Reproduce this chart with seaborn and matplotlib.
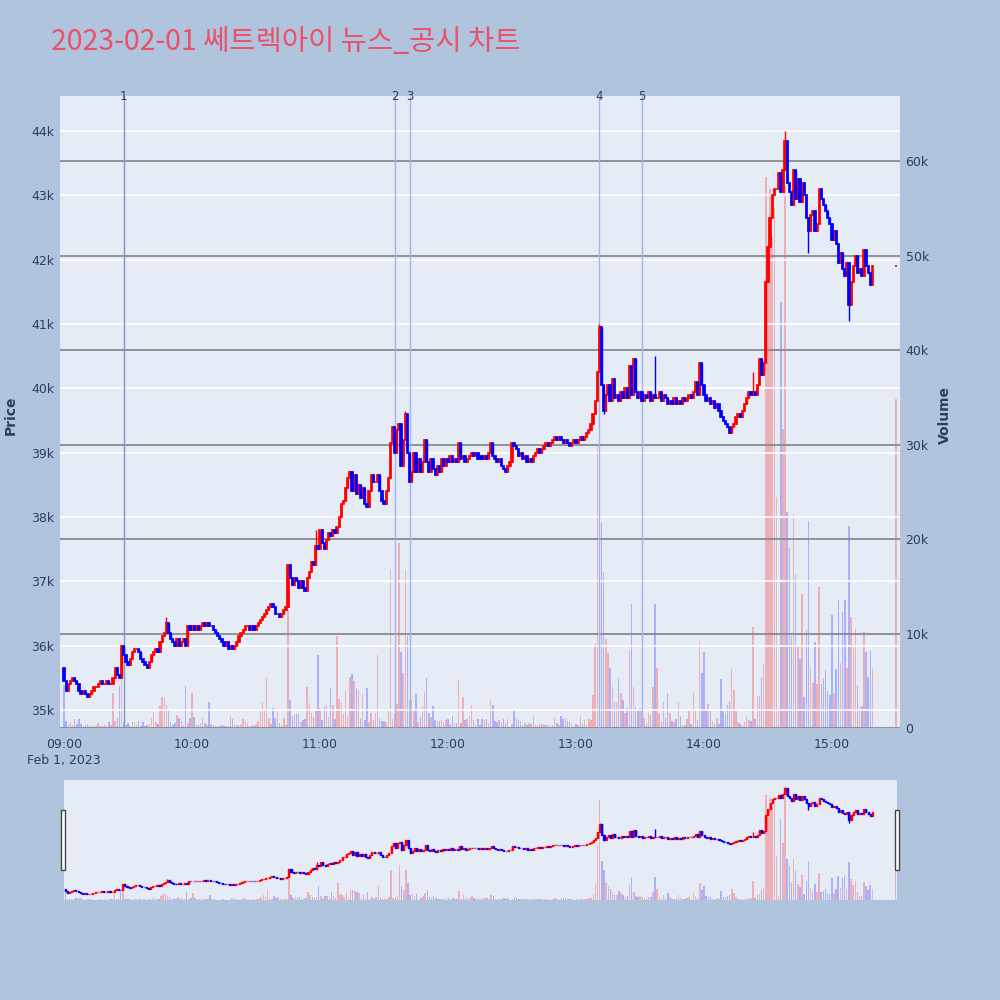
import matplotlib
matplotlib.use("Agg")
import numpy as np
import pandas as pd
import matplotlib.pyplot as plt
import matplotlib.transforms as mtransforms
from matplotlib.patches import Rectangle
import seaborn as sns

# ---- data (1-minute candles, 09:00 = minute 0) ----
title = "2023-02-01 쎄트렉아이 뉴스_공시 차트"
first_open = 35650
closes = [
    35450, 35300, 35400, 35450, 35500, 35450, 35400, 35300, 35250, 35300,
    35250, 35200, 35250, 35300, 35350, 35350, 35400, 35450, 35400, 35400,
    35450, 35400, 35400, 35500, 35650, 35550, 35500, 36000, 35850, 35750,
    35700, 35800, 35900, 35950, 35950, 35900, 35800, 35750, 35700, 35650,
    35750, 35850, 35900, 35950, 35900, 36050, 36150, 36200, 36350, 36200,
    36100, 36050, 36000, 36100, 36000, 36050, 36100, 36000, 36300, 36250,
    36300, 36250, 36300, 36250, 36300, 36350, 36300, 36350, 36300, 36300,
    36250, 36200, 36150, 36100, 36050, 36000, 36050, 35950, 36000, 35950,
    36000, 36050, 36150, 36200, 36250, 36300, 36300, 36250, 36300, 36250,
    36300, 36350, 36400, 36450, 36500, 36550, 36600, 36650, 36600, 36500,
    36500, 36450, 36500, 36550, 36600, 37250, 37050, 36950, 37050, 37000,
    36900, 37000, 36900, 36850, 37050, 37150, 37300, 37250, 37550, 37500,
    37800, 37600, 37500, 37650, 37750, 37700, 37800, 37750, 37850, 38000,
    38200, 38250, 38450, 38600, 38700, 38400, 38650, 38350, 38500, 38300,
    38450, 38200, 38150, 38400, 38650, 38550, 38550, 38650, 38400, 38250,
    38200, 38400, 38600, 39150, 39400, 39000, 39350, 39450, 38800, 39200,
    39600, 39000, 38550, 38700, 39000, 38700, 38900, 38700, 38850, 39200,
    38850, 38700, 38900, 38750, 38650, 38800, 38700, 38900, 38800, 38900,
    38850, 38950, 38850, 38900, 38850, 39150, 38900, 38950, 38850, 38900,
    38950, 39000, 38950, 39000, 38900, 38950, 38900, 38950, 38900, 39000,
    39150, 38950, 38900, 38850, 38900, 38800, 38750, 38700, 38800, 38850,
    39150, 39100, 39050, 38950, 39000, 38900, 38950, 38850, 38900, 38850,
    38950, 39000, 39050, 39000, 39050, 39100, 39150, 39100, 39150, 39200,
    39250, 39200, 39250, 39200, 39150, 39200, 39150, 39100, 39150, 39200,
    39150, 39200, 39250, 39200, 39250, 39300, 39350, 39450, 39600, 39800,
    40250, 40950, 40050, 39650, 39900, 40050, 39800, 40150, 39850, 39900,
    39800, 39950, 39850, 40000, 39850, 40350, 39900, 40450, 39950, 39850,
    39950, 39800, 39900, 39850, 39950, 39800, 39900, 39850, 39850, 39950,
    39800, 39900, 39850, 39750, 39800, 39750, 39850, 39750, 39800, 39750,
    39850, 39800, 39850, 39900, 39850, 39950, 40100, 39900, 40400, 40050,
    39900, 39800, 39850, 39750, 39800, 39700, 39750, 39650, 39550, 39500,
    39450, 39400, 39300, 39400, 39450, 39550, 39600, 39550, 39650, 39750,
    39850, 39950, 39900, 39950, 39900, 40050, 40450, 40200, 40400, 41650,
    42200, 42650, 43000, 43100, 43100, 43350, 43050, 43400, 43850, 43200,
    43050, 42850, 43400, 42950, 43250, 42900, 43200, 43000, 42650, 42450,
    42700, 42750, 42450, 42550, 43100, 42950, 42850, 42750, 42650, 42550,
    42300, 42450, 42250, 41950, 42100, 41850, 41750, 41950, 41300, 41650,
    41900, 42050, 41800, 41850, 41750, 42150, 41900, 41800, 41600, 41900,
]
auction_minute = 390   # 15:30 closing auction
auction_price = 41900

# volume, thousands of shares
volumes = [
    4.5, 0.7, 0.4, 0.6, 0.3, 1.0, 0.4, 0.9, 0.4, 0.2,
    0.3, 0.4, 0.3, 0.2, 0.1, 0.2, 0.5, 0.3, 0.2, 0.4,
    0.2, 0.6, 0.3, 3.7, 0.7, 1.1, 4.4, 9.0, 0.6, 0.3,
    0.5, 0.2, 0.6, 0.6, 0.3, 0.7, 0.2, 0.6, 0.2, 0.3,
    0.4, 1.1, 1.7, 0.6, 0.4, 2.3, 3.3, 3.2, 2.4, 1.9,
    0.6, 0.3, 0.5, 1.4, 1.1, 0.7, 0.3, 4.4, 0.5, 1.1,
    3.7, 1.2, 0.3, 0.3, 0.5, 1.1, 0.5, 0.3, 2.7, 0.4,
    0.3, 0.2, 0.2, 0.2, 0.3, 0.2, 0.2, 0.2, 1.3, 0.9,
    0.4, 0.3, 0.2, 0.3, 1.0, 0.7, 0.5, 0.2, 0.3, 0.2,
    0.4, 0.7, 1.9, 2.8, 1.9, 5.3, 1.1, 0.4, 2.1, 1.1,
    1.9, 0.5, 0.3, 1.1, 0.3, 12.5, 3.0, 1.3, 1.5, 1.5,
    1.5, 0.6, 0.8, 0.9, 4.3, 2.6, 1.6, 1.2, 1.9, 7.7,
    2.1, 0.8, 2.3, 2.4, 1.2, 4.2, 2.4, 1.0, 9.7, 3.1,
    2.7, 1.5, 3.9, 1.3, 5.4, 5.7, 5.0, 4.2, 4.0, 1.0,
    3.6, 0.8, 4.2, 0.6, 1.6, 0.8, 1.6, 7.7, 1.0, 0.7,
    0.7, 0.6, 1.9, 16.8, 1.0, 1.5, 2.5, 19.6, 8.0, 5.8,
    16.7, 9.7, 3.0, 3.1, 2.0, 3.6, 0.6, 1.2, 2.3, 3.8,
    5.3, 1.6, 1.2, 2.3, 0.85, 0.7, 0.7, 0.8, 0.5, 0.85,
    1.0, 0.4, 1.3, 0.5, 0.5, 5.1, 0.5, 3.3, 0.85, 1.0,
    1.3, 2.4, 0.85, 0.3, 1.0, 0.3, 0.9, 0.85, 0.9, 0.5,
    3.0, 2.4, 0.7, 0.6, 0.85, 0.5, 1.0, 0.5, 0.9, 0.15,
    0.4, 1.9, 0.9, 0.8, 0.7, 0.3, 0.5, 0.3, 0.5, 0.4,
    1.3, 0.3, 0.3, 0.4, 0.4, 0.3, 0.3, 0.3, 0.15, 0.3,
    1.1, 0.5, 0.3, 1.3, 1.0, 1.1, 0.7, 0.6, 0.4, 0.15,
    0.4, 0.3, 1.3, 0.4, 0.8, 0.3, 1.0, 0.85, 3.5, 8.9,
    30.0, 55.6, 21.7, 16.5, 9.4, 7.9, 6.4, 4.3, 2.8, 2.8,
    5.2, 3.7, 3.0, 1.6, 2.1, 8.3, 13.1, 4.3, 2.2, 1.9,
    2.1, 1.8, 1.1, 0.4, 1.55, 1.4, 4.3, 13.1, 6.4, 1.6,
    0.6, 2.8, 1.1, 3.7, 1.6, 0.7, 0.6, 1.0, 2.8, 1.3,
    0.3, 0.3, 1.0, 1.8, 0.4, 3.7, 2.0, 0.85, 9.2, 5.8,
    8.0, 2.0, 2.5, 1.8, 0.7, 0.4, 1.1, 0.4, 5.2, 1.8,
    1.6, 2.4, 2.9, 6.2, 4.0, 1.8, 0.6, 0.4, 0.3, 0.6,
    1.2, 0.85, 0.7, 10.7, 1.0, 3.4, 3.4, 5.4, 6.8, 58.3,
    51.0, 57.1, 52.0, 55.0, 24.5, 2.0, 45.1, 31.7, 57.4, 22.9,
    19.1, 9.7, 22.6, 16.2, 8.7, 7.3, 14.2, 3.3, 10.4, 21.9,
    6.5, 4.8, 9.1, 4.7, 14.9, 4.7, 5.2, 6.1, 3.9, 3.5,
    12.0, 3.7, 6.2, 13.6, 6.9, 12.3, 13.5, 6.3, 21.4, 11.7,
    8.4, 10.5, 4.6, 2.2, 2.3, 10.2, 8.0, 5.4, 8.1, 6.4,
]
auction_volume = 34.8

# long wicks
wick_hi = {48: 36450, 118: 37800, 160: 39650, 251: 41000, 277: 40500, 323: 40250, 338: 44000}
wick_lo = {253: 39600, 349: 42100, 368: 41050}

# news / disclosure markers (minute from 09:00)
news_minutes = [28, 155, 162, 251, 271]
news_labels = ["1", "2", "3", "4", "5"]

hour_ticks = [0, 60, 120, 180, 240, 300, 360]
hour_labels = ["09:00\nFeb 1, 2023", "10:00", "11:00", "12:00", "13:00", "14:00", "15:00"]
price_ticks = [35000, 36000, 37000, 38000, 39000, 40000, 41000, 42000, 43000, 44000]
volume_ticks = [0, 10000, 20000, 30000, 40000, 50000, 60000]

# ---- build table ----
minutes = list(range(len(closes))) + [auction_minute]
close_all = closes + [auction_price]
open_all = [first_open] + closes[:-1] + [auction_price]
df = pd.DataFrame({"minute": minutes, "open": open_all, "close": close_all,
                   "volume": np.array(volumes + [auction_volume]) * 1000})
df["high"] = df[["open", "close"]].max(axis=1)
df["low"] = df[["open", "close"]].min(axis=1)
df["body_lo"] = df[["open", "close"]].min(axis=1)
for m, v in wick_hi.items():
    df.loc[df.minute == m, "high"] = v
for m, v in wick_lo.items():
    df.loc[df.minute == m, "low"] = v
df["up"] = df.close >= df.open

sns.set_theme(style="darkgrid", rc={"axes.facecolor": "#E5ECF6", "figure.facecolor": "#B0C4DE"})
plt.rcParams["font.family"] = ["DejaVu Sans", "Noto Sans CJK KR"]
txt = "#2a3f5f"

PRICE_LIM = (34720, 44545)
VOL_LIM = (0, 66900)


def draw_volume(ax, width):
    for up, col in [(True, "red"), (False, "blue")]:
        d = df[df.up == up]
        ax.bar(d.minute, d.volume, width=width, color=col, alpha=0.25, linewidth=0, zorder=1)


def draw_candles(ax, lw, body):
    for up, col in [(True, "red"), (False, "blue")]:
        d = df[df.up == up]
        ax.vlines(d.minute, d.low, d.high, color=col, lw=1.0, zorder=3)
        ax.bar(d.minute, (d.close - d.open).abs(), bottom=d.body_lo,
               width=body, color=col, edgecolor=col, linewidth=lw, zorder=3)


fig = plt.figure(figsize=(10, 10), dpi=100)

# main chart: volume on the base axes (right), price on the twin (left)
ax_vol = fig.add_axes([0.06, 0.272, 0.84, 0.632])
ax_px = ax_vol.twinx()

draw_volume(ax_vol, 0.7)
ax_vol.set_ylim(*VOL_LIM)
ax_vol.set_xlim(-1.9, 391.9)
ax_vol.yaxis.tick_right()
ax_vol.set_yticks(volume_ticks)
ax_vol.set_yticklabels(["0"] + [f"{v // 1000}k" for v in volume_ticks[1:]])
ax_vol.yaxis.grid(True, color="#8a8a8a", lw=1.3)
ax_vol.xaxis.grid(False)
ax_vol.set_axisbelow("line")
ax_vol.set_xticks(hour_ticks)
ax_vol.set_xticklabels(hour_labels, linespacing=1.35)

draw_candles(ax_px, 1.25, 0.6)
ax_px.set_ylim(*PRICE_LIM)
ax_px.yaxis.tick_left()
ax_px.set_yticks(price_ticks)
ax_px.set_yticklabels([f"{p // 1000}k" for p in price_ticks])
ax_px.yaxis.grid(True, color="white", lw=1.2)
ax_px.xaxis.grid(False)
ax_px.set_axisbelow(True)
ax_px.set_xlim(-1.9, 391.9)

trans = mtransforms.blended_transform_factory(ax_px.transData, ax_px.transAxes)
line_cols = ["#8095cc", "#a3b5ee", "#a3b5ee", "#a3b5ee", "#a3b5ee"]
for m, lab, c in zip(news_minutes, news_labels, line_cols):
    ax_px.axvline(m, color=c, lw=1.0, zorder=1)
    ax_px.text(m, 1.0, lab, transform=trans, ha="center", va="center", fontsize=8.5, color=txt)

for a in (ax_vol, ax_px):
    for s in a.spines.values():
        s.set_visible(False)
    a.tick_params(axis="both", length=0, labelsize=9, labelcolor=txt)
ax_vol.tick_params(axis="x", pad=7)
ax_vol.tick_params(axis="y", pad=4)
ax_px.tick_params(axis="y", pad=4)

fig.text(0.011, 0.585, "Price", rotation=90, ha="center", va="center",
         fontsize=10, fontweight="bold", color=txt)
fig.text(0.945, 0.585, "Volume", rotation=90, ha="center", va="center",
         fontsize=10, fontweight="bold", color=txt)
fig.text(0.051, 0.9585, title, ha="left", va="center", fontsize=20.5, color="#EB5168",
         family=["Noto Sans CJK KR", "DejaVu Sans"])

# range slider
ax_sl = fig.add_axes([0.064, 0.10, 0.833, 0.12])
ax_sl_px = ax_sl.twinx()
draw_volume(ax_sl, 0.7)
ax_sl.set_ylim(*VOL_LIM)
draw_candles(ax_sl_px, 1.0, 0.5)
ax_sl_px.set_ylim(*PRICE_LIM)
for a in (ax_sl, ax_sl_px):
    a.set_xlim(-0.6, 390.6)
    a.set_xticks([])
    a.set_yticks([])
    a.grid(False)
    for s in a.spines.values():
        s.set_visible(False)
for hx in (0.061, 0.895):
    fig.add_artist(Rectangle((hx, 0.13), 0.004, 0.06, transform=fig.transFigure,
                             facecolor="white", edgecolor="#444444", lw=1, zorder=5))

fig.savefig("out.png", dpi=100, facecolor=fig.get_facecolor())
